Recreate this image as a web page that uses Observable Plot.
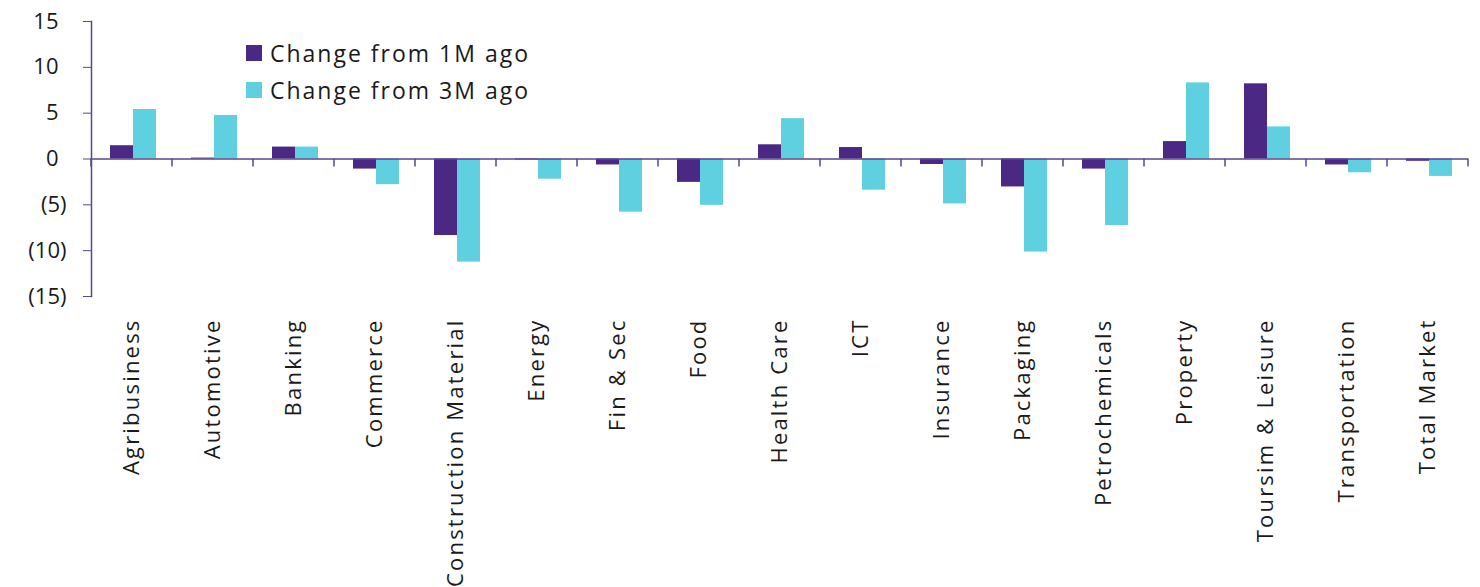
<!DOCTYPE html>
<html>
<head>
<meta charset="utf-8">
<script src="https://cdn.jsdelivr.net/npm/d3@7"></script>
<script src="https://cdn.jsdelivr.net/npm/@observablehq/plot@0.6"></script>
<style>
  html, body { margin: 0; padding: 0; background: #fff; }
  #chart { position: relative; width: 1480px; height: 587px; }
  #legend {
    position: absolute; left: 246px; top: 34px;
    font-family: "Open Sans", sans-serif; font-size: 23px; letter-spacing: 2px;
    color: #1a1a1a;
  }
  #legend .row { display: flex; align-items: center; height: 37px; }
  #legend .sw { width: 16px; height: 16px; margin-right: 8px; }
</style>
</head>
<body>
<div id="chart"><div id="legend"></div></div>
<script>
// Sector index performance
const categories = [
  "Agribusiness", "Automotive", "Banking", "Commerce", "Construction Material",
  "Energy", "Fin & Sec", "Food", "Health Care", "ICT", "Insurance", "Packaging",
  "Petrochemicals", "Property", "Toursim & Leisure", "Transportation", "Total Market"
];
const change1M = [1.45, 0.1, 1.3, -1.1, -8.35, -0.1, -0.65, -2.55, 1.55, 1.25, -0.6, -3.05, -1.1, 1.9, 8.2, -0.65, -0.25];
const change3M = [5.4, 4.75, 1.3, -2.8, -11.25, -2.2, -5.8, -5.05, 4.4, -3.4, -4.9, -10.15, -7.25, 8.3, 3.5, -1.5, -1.9];
const seriesNames = ["Change from 1M ago", "Change from 3M ago"];
const seriesColors = ["#4b2884", "#5fd0df"];
const yTicksPos = [0, 5, 10, 15];
const yTicksNeg = [-5, -10, -15];

const axisColor = "#5a4590";
const font = "'Open Sans', sans-serif";

const rows = categories.map((c, i) => ({category: c, m1: change1M[i], m3: change3M[i]}));

const plot = Plot.plot({
  width: 1480,
  height: 587,
  marginLeft: 91,
  marginRight: 12,
  marginTop: 21,
  marginBottom: 291,
  style: {fontFamily: font, fontSize: "22px", color: "#1a1a1a"},
  x: {domain: categories, paddingInner: 0, paddingOuter: 0, label: null},
  y: {domain: [-15, 15], label: null},
  marks: [
    Plot.barY(rows, {x: "category", y: "m1", fill: seriesColors[0], insetLeft: 19, insetRight: 39}),
    Plot.barY(rows, {x: "category", y: "m3", fill: seriesColors[1], insetLeft: 42, insetRight: 16}),
    Plot.ruleY([0], {stroke: axisColor, strokeWidth: 1.5}),
    Plot.frame({anchor: "left", stroke: axisColor, strokeWidth: 1.5}),
    Plot.axisY({ticks: yTicksPos, tickSize: 8, tickPadding: 25, stroke: axisColor, tickFormat: d => `${d}`, fontSize: 22, label: null}),
    Plot.axisY({ticks: yTicksNeg, tickSize: 8, tickPadding: 17, stroke: axisColor, tickFormat: d => `(${Math.abs(d)})`, fontSize: 22, label: null}),
    Plot.axisX({tickSize: 0, tickPadding: 22, tickRotate: -90, fontSize: 22, label: null})
  ]
});

// Wider tracking on the sector names
d3.select(plot).selectAll('g[aria-label="x-axis tick label"]').style("letter-spacing", "2.2px");

// Category separator ticks hanging below the zero line
const xs = plot.scale("x"), ys = plot.scale("y");
const y0 = ys.apply(0);
const edges = categories.map(c => xs.apply(c)).concat([xs.apply(categories[categories.length - 1]) + xs.bandwidth]);
d3.select(plot).append("g")
  .attr("stroke", axisColor).attr("stroke-width", 1.5)
  .selectAll("line").data(edges).join("line")
  .attr("x1", d => d).attr("x2", d => d)
  .attr("y1", y0).attr("y2", y0 + 8);

const chart = document.getElementById("chart");
chart.insertBefore(plot, chart.firstChild);

const legend = d3.select("#legend");
seriesNames.forEach((name, i) => {
  const row = legend.append("div").attr("class", "row");
  row.append("div").attr("class", "sw").style("background", seriesColors[i]);
  row.append("span").text(name);
});
</script>
</body>
</html>
